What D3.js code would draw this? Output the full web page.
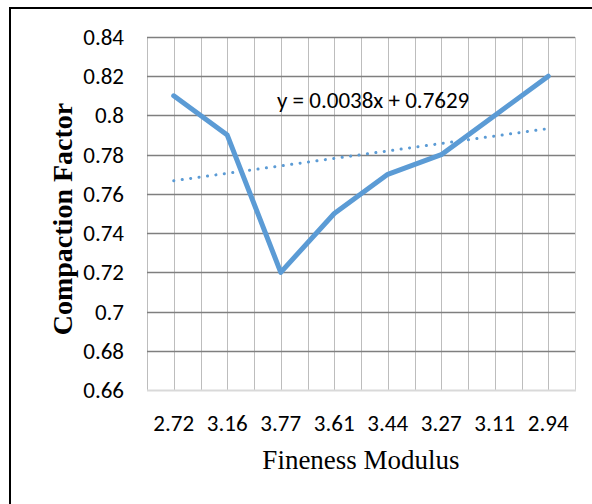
<!DOCTYPE html>
<html>
<head>
<meta charset="utf-8">
<script src="https://cdn.jsdelivr.net/npm/d3@7"></script>
<style>
  body { margin: 0; background: #fff; }
</style>
</head>
<body>
<div id="chart"></div>
<script>
// fineness modulus categories and compaction factor readings
let categories = ['2.72', '3.16', '3.77', '3.61', '3.44', '3.27', '3.11', '2.94'];
let compaction = [0.81, 0.79, 0.72, 0.75, 0.77, 0.78, 0.80, 0.82];
let yTicks = [0.66, 0.68, 0.7, 0.72, 0.74, 0.76, 0.78, 0.8, 0.82, 0.84];
let trendSlope = 0.0038;
let trendIntercept = 0.7629;
let trendLabel = 'y = 0.0038x + 0.7629';

let width = 592, height = 504;
let plot = {left: 147, top: 37, right: 575, bottom: 390};
let sansFont = 'Carlito, "Open Sans", "Liberation Sans", sans-serif';
let serifFont = '"Liberation Serif", "Times New Roman", serif';

let svg = d3.select('#chart')
    .append('svg')
    .attr('width', width)
    .attr('height', height);

// outer frame
svg.append('rect')
    .attr('x', 10)
    .attr('y', 8)
    .attr('width', 600)
    .attr('height', 520)
    .attr('fill', 'white')
    .attr('stroke', '#000')
    .attr('stroke-width', 2);

let xScale = d3.scaleBand()
    .domain(categories)
    .range([plot.left, plot.right])
    .padding(0);

let yScale = d3.scaleLinear()
    .domain([0.66, 0.84])
    .range([plot.bottom, plot.top]);

// vertical grid: category edges and centres
let vLines = [];
categories.forEach(function(c){
    vLines.push(xScale(c));
    vLines.push(xScale(c) + xScale.bandwidth() / 2);
});
vLines.push(plot.right);

svg.append('g')
    .selectAll('line')
    .data(vLines)
    .enter()
    .append('line')
    .attr('x1', d => Math.round(d) + 0.5)
    .attr('x2', d => Math.round(d) + 0.5)
    .attr('y1', plot.top)
    .attr('y2', plot.bottom)
    .attr('stroke', (d, i) => i === vLines.length - 1 ? '#d0d0d0' : '#bdbdbd')
    .attr('stroke-width', 1);

// horizontal grid
svg.append('g')
    .selectAll('line')
    .data(yTicks.slice(1))
    .enter()
    .append('line')
    .attr('x1', plot.left)
    .attr('x2', plot.right)
    .attr('y1', d => Math.round(yScale(d)) + 0.5)
    .attr('y2', d => Math.round(yScale(d)) + 0.5)
    .attr('stroke', '#7f7f7f')
    .attr('stroke-width', 1.3);

// bottom axis line
svg.append('line')
    .attr('x1', plot.left)
    .attr('x2', plot.right + 1)
    .attr('y1', plot.bottom + 0.5)
    .attr('y2', plot.bottom + 0.5)
    .attr('stroke', '#d9d9d9')
    .attr('stroke-width', 2);

// y tick labels
svg.append('g')
    .selectAll('text')
    .data(yTicks)
    .enter()
    .append('text')
    .attr('x', 124)
    .attr('y', d => yScale(d))
    .attr('dy', '0.35em')
    .attr('text-anchor', 'end')
    .attr('fill', '#000')
    .style('font-family', sansFont)
    .style('font-size', '23px')
    .text(d => d3.format('')(+d.toFixed(2)));

// x tick labels
svg.append('g')
    .selectAll('text')
    .data(categories)
    .enter()
    .append('text')
    .attr('x', d => xScale(d) + xScale.bandwidth() / 2)
    .attr('y', 423)
    .attr('dy', '0.35em')
    .attr('text-anchor', 'middle')
    .attr('fill', '#000')
    .style('font-family', sansFont)
    .style('font-size', '23px')
    .text(d => d);

// trendline (x = 1..n)
let trendPts = [];
for (let i = 0; i < categories.length; i++) {
    trendPts.push([categories[i], trendSlope * (i + 1) + trendIntercept]);
}
let lineGen = d3.line()
    .x(d => xScale(d[0]) + xScale.bandwidth() / 2)
    .y(d => yScale(d[1]));

svg.append('path')
    .datum([trendPts[0], trendPts[trendPts.length - 1]])
    .attr('d', lineGen)
    .attr('fill', 'none')
    .attr('stroke', '#5b9bd5')
    .attr('stroke-width', 3)
    .attr('stroke-linecap', 'round')
    .attr('stroke-dasharray', '0.1 8.4');

// data line
svg.append('path')
    .datum(categories.map((c, i) => [c, compaction[i]]))
    .attr('d', lineGen)
    .attr('fill', 'none')
    .attr('stroke', '#5b9bd5')
    .attr('stroke-width', 5)
    .attr('stroke-linejoin', 'round')
    .attr('stroke-linecap', 'round');

// trend equation
svg.append('text')
    .attr('x', 277)
    .attr('y', 100)
    .attr('dy', '0.35em')
    .attr('fill', '#000')
    .style('font-family', sansFont)
    .style('font-size', '23px')
    .text(trendLabel);

// axis titles
svg.append('text')
    .attr('transform', 'translate(62,219) rotate(-90)')
    .attr('dy', '0.35em')
    .attr('text-anchor', 'middle')
    .attr('fill', '#000')
    .style('font-family', serifFont)
    .style('font-weight', 'bold')
    .style('font-size', '28px')
    .text('Compaction Factor');

svg.append('text')
    .attr('x', 361)
    .attr('y', 460)
    .attr('dy', '0.35em')
    .attr('text-anchor', 'middle')
    .attr('fill', '#000')
    .style('font-family', serifFont)
    .style('font-size', '27px')
    .text('Fineness Modulus');
</script>
</body>
</html>
